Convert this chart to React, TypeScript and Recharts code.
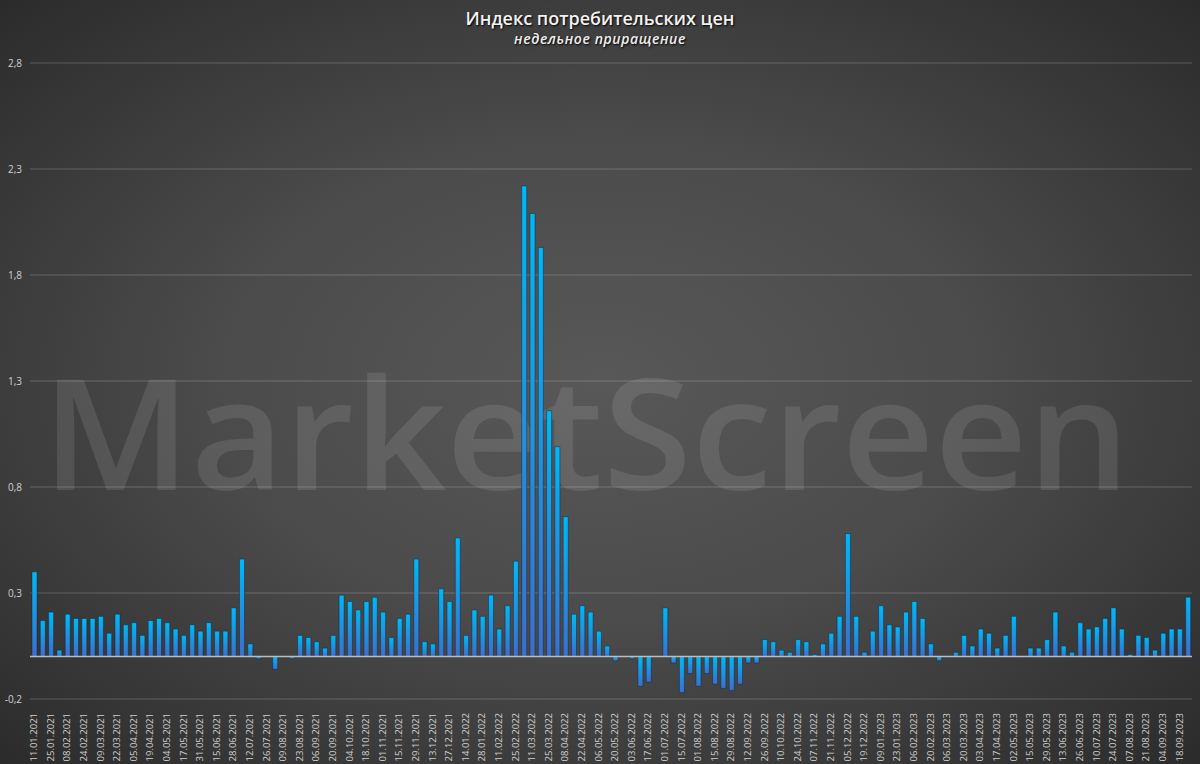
import { BarChart, Bar, XAxis, YAxis, CartesianGrid, ReferenceLine } from "recharts";

// weekly dates (Rosstat publication weeks)
const dates2021 = [
  "11.01.2021", "18.01.2021", "25.01.2021", "01.02.2021", "08.02.2021", "15.02.2021", "24.02.2021", "02.03.2021",
  "09.03.2021", "15.03.2021", "22.03.2021", "29.03.2021", "05.04.2021", "12.04.2021", "19.04.2021", "26.04.2021",
  "04.05.2021", "11.05.2021", "17.05.2021", "24.05.2021", "31.05.2021", "07.06.2021", "15.06.2021", "21.06.2021",
  "28.06.2021", "05.07.2021", "12.07.2021", "19.07.2021", "26.07.2021", "02.08.2021", "09.08.2021", "16.08.2021",
  "23.08.2021", "30.08.2021", "06.09.2021", "13.09.2021", "20.09.2021", "27.09.2021", "04.10.2021", "11.10.2021",
  "18.10.2021", "25.10.2021", "01.11.2021", "08.11.2021", "15.11.2021", "22.11.2021", "29.11.2021", "06.12.2021",
  "13.12.2021", "20.12.2021", "27.12.2021",
];
const dates2022 = [
  "10.01.2022", "14.01.2022", "21.01.2022", "28.01.2022", "04.02.2022", "11.02.2022", "18.02.2022", "25.02.2022",
  "04.03.2022", "11.03.2022", "18.03.2022", "25.03.2022", "01.04.2022", "08.04.2022", "15.04.2022", "22.04.2022",
  "29.04.2022", "06.05.2022", "13.05.2022", "20.05.2022", "27.05.2022", "03.06.2022", "10.06.2022", "17.06.2022",
  "24.06.2022", "01.07.2022", "08.07.2022", "15.07.2022", "22.07.2022", "01.08.2022", "08.08.2022", "15.08.2022",
  "22.08.2022", "29.08.2022", "05.09.2022", "12.09.2022", "19.09.2022", "26.09.2022", "03.10.2022", "10.10.2022",
  "17.10.2022", "24.10.2022", "31.10.2022", "07.11.2022", "14.11.2022", "21.11.2022", "28.11.2022", "05.12.2022",
  "12.12.2022", "19.12.2022", "26.12.2022",
];
const dates2023 = [
  "09.01.2023", "16.01.2023", "23.01.2023", "30.01.2023", "06.02.2023", "13.02.2023", "20.02.2023", "27.02.2023",
  "06.03.2023", "13.03.2023", "20.03.2023", "27.03.2023", "03.04.2023", "10.04.2023", "17.04.2023", "24.04.2023",
  "02.05.2023", "10.05.2023", "15.05.2023", "22.05.2023", "29.05.2023", "05.06.2023", "13.06.2023", "19.06.2023",
  "26.06.2023", "03.07.2023", "10.07.2023", "17.07.2023", "24.07.2023", "31.07.2023", "07.08.2023", "14.08.2023",
  "21.08.2023", "28.08.2023", "04.09.2023", "11.09.2023", "18.09.2023", "25.09.2023",
];

// weekly CPI increase, %
const cpi2021 = [
  0.4, 0.17, 0.21, 0.03, 0.2, 0.18, 0.18, 0.18, 0.19, 0.11, 0.2, 0.15, 0.16, 0.1, 0.17, 0.18, 0.16, 0.13,
  0.1, 0.15, 0.12, 0.16, 0.12, 0.12, 0.23, 0.46, 0.06, -0.01, 0, -0.06, 0, -0.01, 0.1, 0.09, 0.07, 0.04,
  0.1, 0.29, 0.26, 0.22, 0.26, 0.28, 0.21, 0.09, 0.18, 0.2, 0.46, 0.07, 0.06, 0.32, 0.26,
];
const cpi2022 = [
  0.56, 0.1, 0.22, 0.19, 0.29, 0.13, 0.24, 0.45, 2.22, 2.09, 1.93, 1.16, 0.99, 0.66, 0.2, 0.24, 0.21, 0.12,
  0.05, -0.02, 0, -0.01, -0.14, -0.12, 0, 0.23, -0.03, -0.17, -0.08, -0.14, -0.08, -0.13, -0.15, -0.16, -0.13,
  -0.03, -0.03, 0.08, 0.07, 0.03, 0.02, 0.08, 0.07, 0.01, 0.06, 0.11, 0.19, 0.58, 0.19, 0.02, 0.12,
];
const cpi2023 = [
  0.24, 0.15, 0.14, 0.21, 0.26, 0.18, 0.06, -0.02, 0, 0.02, 0.1, 0.05, 0.13, 0.11, 0.04, 0.1, 0.19, 0,
  0.04, 0.04, 0.08, 0.21, 0.05, 0.02, 0.16, 0.13, 0.14, 0.18, 0.23, 0.13, 0.01, 0.1, 0.09, 0.03, 0.11, 0.13,
  0.13, 0.28,
];

const yTicks = [-0.2, 0.3, 0.8, 1.3, 1.8, 2.3, 2.8];

const dates = [...dates2021, ...dates2022, ...dates2023];
const values = [...cpi2021, ...cpi2022, ...cpi2023];
const data = dates.map((d, i) => ({ date: d, v: values[i] }));

const fmt = (n: number) => n.toFixed(1).replace(".", ",");

const DateTick = (props: any) => {
  const { x, y, payload } = props;
  return (
    <text
      x={x + 3}
      y={y + 6}
      transform={`rotate(-90 ${x + 3} ${y + 6})`}
      textAnchor="end"
      fill="#cfcfcf"
      fontSize={9.5}
      fontFamily="'Open Sans', sans-serif"
    >
      {payload.value}
    </text>
  );
};

const App = () => {
  return (
    <div
      style={{
        position: "relative",
        width: 1200,
        height: 764,
        overflow: "hidden",
        background: "radial-gradient(ellipse at 50% 50%, #585858 0%, #4b4b4b 45%, #2b2b2b 100%)",
        fontFamily: "'Open Sans', sans-serif",
      }}
    >
      <style>{"body{margin:0}"}</style>
      <svg width={1200} height={764} style={{ position: "absolute", left: 0, top: 0 }}>
        <text
          x={42}
          y={490}
          textLength={1088}
          lengthAdjust="spacingAndGlyphs"
          fontSize={154}
          fontWeight={600}
          fontFamily="'Open Sans', sans-serif"
          fill="rgba(255,255,255,0.1)"
        >
          MarketScreen
        </text>
      </svg>
      <div
        style={{
          position: "absolute",
          top: 6,
          width: "100%",
          textAlign: "center",
          color: "#f2f2f2",
          fontSize: 18,
          fontWeight: 600,
          textShadow: "1px 1px 2px #000",
        }}
      >
        Индекс потребительских цен
      </div>
      <div
        style={{
          position: "absolute",
          top: 29,
          width: "100%",
          textAlign: "center",
          color: "#eeeeee",
          fontSize: 14,
          fontStyle: "italic",
          fontWeight: 600,
          letterSpacing: 0.6,
          textShadow: "1px 1px 2px #000",
        }}
      >
        недельное приращение
      </div>
      <div style={{ position: "absolute", left: 0, top: 0 }}>
        <BarChart
          width={1200}
          height={764}
          data={data}
          margin={{ top: 63, right: 8, bottom: 3, left: 0 }}
          barSize={5}
        >
          <defs>
            <linearGradient id="barGrad" x1="0" y1="0" x2="0" y2="1">
              <stop offset="0%" stopColor="#00b8f6" />
              <stop offset="100%" stopColor="#3b6fcc" />
            </linearGradient>
          </defs>
          <CartesianGrid vertical={false} stroke="rgba(255,255,255,0.1)" strokeWidth={2} />
          <XAxis
            dataKey="date"
            interval={1}
            height={62}
            tick={<DateTick />}
            tickLine={false}
            axisLine={false}
          />
          <YAxis
            width={30}
            domain={[-0.2, 2.8]}
            ticks={yTicks}
            tickFormatter={fmt}
            tickLine={false}
            axisLine={false}
            tick={{ fill: "#cfcfcf", fontSize: 10 }}
          />
          <ReferenceLine y={0} stroke="#bdbdbd" strokeWidth={1.5} />
          <Bar
            dataKey="v"
            fill="url(#barGrad)"
            stroke="rgba(15,30,50,0.55)"
            strokeWidth={0.8}
            isAnimationActive={false}
          />
        </BarChart>
      </div>
    </div>
  );
};

export default App;
